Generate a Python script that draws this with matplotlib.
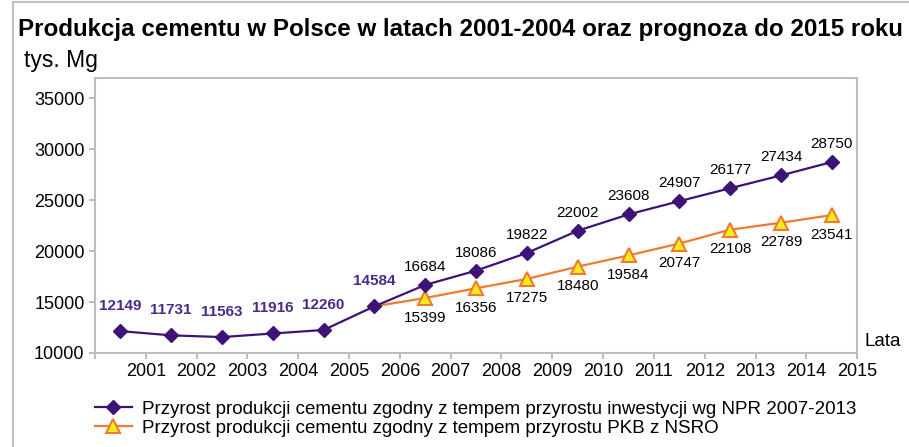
import matplotlib
matplotlib.use('Agg')
import matplotlib.pyplot as plt
from matplotlib.lines import Line2D

plt.rcParams['font.family'] = ['Liberation Sans', 'DejaVu Sans']

# dane
lata = [str(r) for r in range(2001, 2016)]
npr = [12149, 11731, 11563, 11916, 12260, 14584, 16684, 18086, 19822,
       22002, 23608, 24907, 26177, 27434, 28750]
pkb_lata_idx = list(range(5, 15))
pkb = [14584, 15399, 16356, 17275, 18480, 19584, 20747, 22108, 22789, 23541]
n_hist = 6  # pierwsze etykiety pogrubione

fiolet = '#3d1476'
pomar = '#f07a2e'
zolty = '#f7ec1e'

fig = plt.figure(figsize=(9.09, 4.47), dpi=100)
ax = fig.add_axes([0.1045, 0.2103, 0.8385, 0.6152])

x_npr = [i + 0.5 for i in range(len(npr))]
x_pkb = [i + 0.5 for i in pkb_lata_idx]

l1, = ax.plot(x_npr, npr, color=fiolet, lw=1.6, marker='D', ms=7.5,
              mfc=fiolet, mec=fiolet, zorder=4,
              label='Przyrost produkcji cementu zgodny z tempem przyrostu inwestycji wg NPR 2007-2013')
ax.plot(x_pkb, pkb, color=pomar, lw=1.6, zorder=3)
ax.plot(x_pkb[1:], pkb[1:], ls='none', marker='^', ms=10, mfc=zolty,
        mec=pomar, mew=1.5, zorder=3)
l2 = Line2D([], [], color=pomar, lw=1.6, marker='^', ms=10, mfc=zolty,
            mec=pomar, mew=1.5,
            label='Przyrost produkcji cementu zgodny z tempem przyrostu PKB z NSRO')

# etykiety danych
for i, (x, v) in enumerate(zip(x_npr, npr)):
    if i < n_hist:
        ax.annotate(str(v), (x, v), xytext=(0, 13), textcoords='offset points',
                    ha='center', va='bottom', fontsize=11, fontweight='bold',
                    color='#4a2a8a')
    else:
        ax.annotate(str(v), (x, v), xytext=(0, 8), textcoords='offset points',
                    ha='center', va='bottom', fontsize=11, color='black')
for x, v in zip(x_pkb[1:], pkb[1:]):
    ax.annotate(str(v), (x, v), xytext=(0, -9), textcoords='offset points',
                ha='center', va='top', fontsize=11, color='black')

ax.set_xlim(0, 15)
ax.set_ylim(10000, 37000)
ax.set_yticks(range(10000, 35001, 5000))
ax.set_xticks(range(0, 16))
ax.set_xticklabels([''] + lata)
ax.tick_params(axis='both', labelsize=13, color='#b0b0b0', length=4, width=1.2)
ax.tick_params(axis='x', pad=3)
for s in ax.spines.values():
    s.set_color('#bdbdbd')
    s.set_linewidth(1.5)

fig.text(0.951, 0.217, 'Lata', fontsize=13.5, ha='left', va='bottom')
fig.text(0.02, 0.935, 'Produkcja cementu w Polsce w latach 2001-2004 oraz prognoza do 2015 roku',
         fontsize=17.4, fontweight='bold', ha='left', va='center')
fig.text(0.026, 0.865, 'tys. Mg', fontsize=16.5, ha='left', va='center')

fig.legend(handles=[l1, l2], loc='upper left', bbox_to_anchor=(0.104, 0.104),
           frameon=False, fontsize=13.5, handlelength=2.0, handletextpad=0.55,
           labelspacing=0.12, borderaxespad=0, borderpad=0)

# ramka rysunku (lewa i górna krawędź)
fig.add_artist(Line2D([0.014, 0.014], [0, 0.995], color='#c0c0c0', lw=1.5,
                      transform=fig.transFigure))
fig.add_artist(Line2D([0.014, 1.0], [0.995, 0.995], color='#c0c0c0', lw=1.5,
                      transform=fig.transFigure))

fig.savefig('out.png', dpi=100)
